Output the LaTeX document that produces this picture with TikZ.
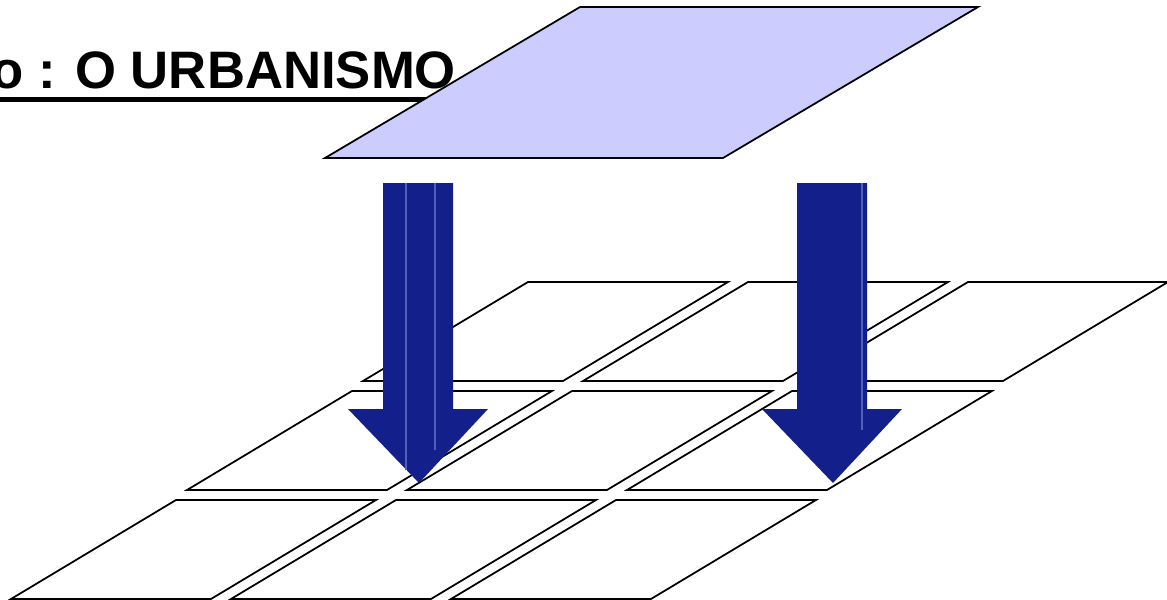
\documentclass[tikz,border=0pt]{standalone}
\usepackage{fontspec}
\setmainfont{Liberation Sans}
\definecolor{sheetfill}{RGB}{204,204,255}
\definecolor{arrowblue}{RGB}{19,31,138}
\definecolor{seamblue}{RGB}{80,95,185}
\tikzset{
  cell/.style={draw=black, line width=1pt, line join=miter},
  sheet/.style={draw=black, fill=sheetfill, line width=1pt, line join=miter},
  bigarrow/.style={fill=arrowblue},
  seam/.style={draw=seamblue, line width=0.6pt},
  title/.style={font=\bfseries\fontsize{30}{36}\selectfont, anchor=base west, inner sep=0pt}
}

\begin{document}
\begin{tikzpicture}[x=0.02cm, y=-0.02cm]
\useasboundingbox (0,0) rectangle (1167,599);
% heading, cut at the left edge
\node[title] (head) at (-9,88) {o : O URBANISMO};
\draw[line width=2.6pt] ([yshift=-0.23cm]head.base west) -- ([yshift=-0.23cm]head.base east);
% ground plan: 3 x 3 plots
\foreach \r in {0,1,2}
{
  \foreach \c in {0,1,2}
  {
    \draw[cell] (528-176*\r+220*\c, 282+109*\r) -- ++(200,0) -- ++(-165,99) -- ++(-200,0) -- cycle;
  }
}
% the plan sheet
\draw[sheet] (325,158) -- (580,7) -- (978,7) -- (723,158) -- cycle;
% arrows down onto the plots
\foreach \cx in {418,832}
{
  \fill[bigarrow] (\cx-35,183) -- (\cx+35,183) -- (\cx+35,409) -- (\cx+70,409)
    -- (\cx+1,483) -- (\cx-70,409) -- (\cx-35,409) -- cycle;
}
\draw[seam] (406,183) -- (406,470);
\draw[seam] (435,183) -- (435,450);
\draw[seam] (862,183) -- (862,430);
\end{tikzpicture}
\end{document}
